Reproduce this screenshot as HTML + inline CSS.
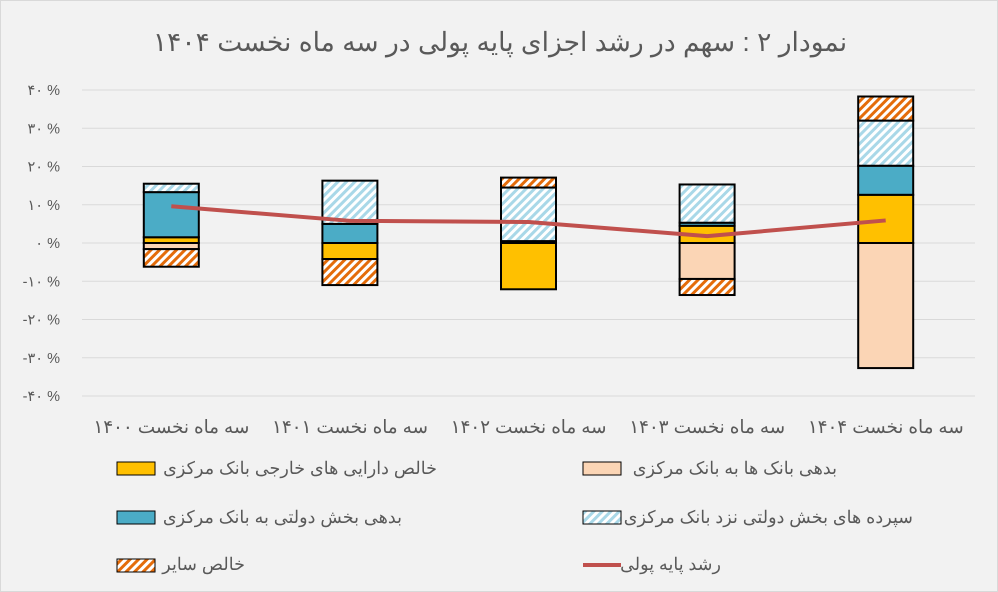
<!DOCTYPE html>
<html><head><meta charset="utf-8"><style>
body{margin:0;background:#f2f2f2;}
svg{display:block;font-family:"Liberation Sans","Noto Sans CJK SC",sans-serif;}
</style></head><body>
<svg id="c" width="998" height="592">
<defs>
<pattern id="pl" width="6" height="6" patternUnits="userSpaceOnUse" patternTransform="rotate(45)"><rect width="6" height="6" fill="#fff"/><rect width="3" height="6" fill="#a9d8e8"/></pattern>
<pattern id="po" width="6" height="6" patternUnits="userSpaceOnUse" patternTransform="rotate(45)"><rect width="6" height="6" fill="#fff"/><rect width="3" height="6" fill="#e46c0a"/></pattern>
</defs>
<rect x="0.5" y="0.5" width="997" height="591" fill="#f2f2f2" stroke="#d9d9d9"/>
<text x="500" y="51" text-anchor="middle" font-size="26.5" fill="#595959" direction="rtl">نمودار ۲ : سهم در رشد اجزای پایه پولی در سه ماه نخست ۱۴۰۴</text>
<g id="grid"></g><g id="bars"></g><g id="line"></g><g id="xl"></g>
<g font-size="17.6" fill="#595959">
<rect x="117" y="462" width="38" height="13" fill="#ffc000" stroke="#000"/>
<text x="437" y="474" text-anchor="end">خالص دارایی های خارجی  بانک مرکزی</text>
<rect x="583" y="462" width="38" height="13" fill="#fbd5b5" stroke="#000"/>
<text x="837" y="474" text-anchor="end">بدهی بانک ها به بانک مرکزی</text>
<rect x="117" y="511" width="38" height="13" fill="#4bacc6" stroke="#000"/>
<text x="402" y="523" text-anchor="end">بدهی بخش دولتی به بانک مرکزی</text>
<rect x="583" y="511" width="38" height="13" fill="url(#pl)" stroke="#000"/>
<text x="913" y="523" text-anchor="end">سپرده های بخش دولتی نزد بانک مرکزی</text>
<rect x="117" y="559" width="38" height="13" fill="url(#po)" stroke="#000"/>
<text x="245" y="570" text-anchor="end">خالص سایر</text>
<line x1="583" y1="565" x2="621" y2="565" stroke="#c0504d" stroke-width="4"/>
<text x="721" y="570" text-anchor="end">رشد پایه پولی</text>
</g>
</svg>
<script>
const categories=["سه ماه نخست ۱۴۰۰","سه ماه نخست ۱۴۰۱","سه ماه نخست ۱۴۰۲","سه ماه نخست ۱۴۰۳","سه ماه نخست ۱۴۰۴"];
const foreignAssets=[1.5,-4.2,-12.1,4.5,12.6];
const bankDebt=[-1.6,0,0,-9.4,-32.7];
const govDebt=[11.8,5.0,0.5,0.8,7.6];
const govDeposits=[2.2,11.3,14.0,10.0,11.8];
const otherNet=[-4.6,-6.8,2.6,-4.2,6.3];
const baseMoney=[9.6,5.8,5.5,1.8,5.9];
const ticks=[40,30,20,10,0,-10,-20,-30,-40];
const tickLabels=["۴۰ %","۳۰ %","۲۰ %","۱۰ %","۰ %","-۱۰ %","-۲۰ %","-۳۰ %","-۴۰ %"];
const NS="http://www.w3.org/2000/svg";
const X0=82,X1=975,Y0=243,K=153/40;
const y=v=>Y0-v*K;
const step=(X1-X0)/categories.length;
const xc=i=>X0+step*(i+0.5);
function mk(tag,at,par){const e=document.createElementNS(NS,tag);for(const k in at)e.setAttribute(k,at[k]);document.getElementById(par).appendChild(e);return e;}
ticks.forEach((t,i)=>{
 const l=mk('line',{x1:X0,x2:X1,y1:y(t),y2:y(t),stroke:'#d9d9d9','stroke-width':1},'grid');
 
 
 const tx=mk('text',{x:60,y:y(t)+5,'text-anchor':'end','font-size':14.5,fill:'#595959'},'grid');
 tx.textContent=tickLabels[i];
 
 
});
const series=[[foreignAssets,'#ffc000','foreign-assets'],[bankDebt,'#fbd5b5','bank-debt'],[govDebt,'#4bacc6','gov-debt'],[govDeposits,'url(#pl)','gov-deposits'],[otherNet,'url(#po)','other-net']];
const bw=55;
categories.forEach((c,i)=>{
 let pos=0,neg=0;
 series.forEach(([arr,fill,name])=>{
  const v=arr[i]; if(!v)return;
  let a,b; if(v>0){a=pos;b=pos+v;pos=b;}else{a=neg;b=neg+v;neg=b;}
  const r=mk('rect',{x:xc(i)-bw/2,y:Math.min(y(a),y(b)),width:bw,height:Math.abs(y(a)-y(b)),fill:fill,stroke:'#000','stroke-width':2},'bars');
  
  
 });
 const t=mk('text',{x:xc(i),y:433,'text-anchor':'middle','font-size':18.3,fill:'#595959',direction:'rtl'},'xl');
 t.textContent=c;
 
 
});
const pl=mk('polyline',{points:baseMoney.map((v,i)=>xc(i)+','+y(v)).join(' '),fill:'none',stroke:'#c0504d','stroke-width':4,'stroke-linejoin':'round'},'line');


</script>
</body></html>
